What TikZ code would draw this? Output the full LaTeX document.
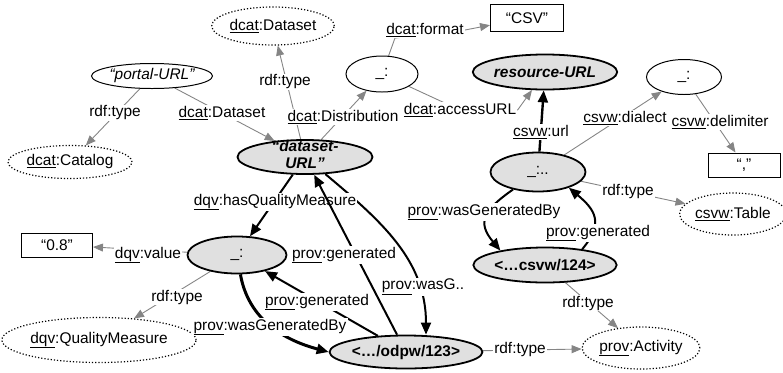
\documentclass[tikz,border=0pt]{standalone}
\usepackage{fontspec}
\setmainfont{Liberation Sans}
\usetikzlibrary{shapes.geometric,arrows.meta,backgrounds}

\definecolor{nodegray}{gray}{0.88}
\definecolor{edgegray}{gray}{0.52}
\newcommand{\ns}[1]{\underline{#1}}

\tikzset{
  res/.style={ellipse,draw,line width=1.8pt,fill=nodegray,inner sep=0pt},
  blank/.style={ellipse,draw,line width=1pt,inner sep=0pt},
  cls/.style={ellipse,draw,dotted,line width=1.2pt,inner sep=0pt},
  lit/.style={rectangle,draw,line width=1pt,inner sep=0pt},
  dims/.style 2 args={minimum width=#1bp,minimum height=#2bp},
  lbl/.style={fill=white,inner sep=1.2pt},
  weak/.style={draw=edgegray,line width=0.9pt,-{Triangle[length=10pt,width=8pt]}},
  strong/.style={draw=black,line width=2pt,-{Triangle[length=12pt,width=10pt]}},
}

\begin{document}
\begin{tikzpicture}[x=1bp,y=-1bp,font=\fontsize{15.5}{17}\selectfont]
  \useasboundingbox (0,0) rectangle (783,372);

  % resources, blank nodes, classes and literals
  \node (portal)   at (152,76)  [blank,dims={121}{25}] {\itshape “portal-URL”};
  \node (catalog)  at (70,162)  [cls,dims={124}{33}] {\ns{dcat}:Catalog};
  \node (dsclass)  at (273,26)  [cls,dims={120}{38}] {\ns{dcat}:Dataset};
  \node (dsurl)    at (305,157) [res,dims={135}{34}] {\bfseries\itshape\raisebox{-6pt}{\smash{\begin{tabular}{@{}c@{}}“dataset-\\URL”\end{tabular}}}};
  \node (dist)     at (382,74)  [blank,dims={72}{36}] {\_:};
  \node (csv)      at (527,18)  [lit,dims={73}{27}] {“CSV”};
  \node (resurl)   at (545,72)  [res,dims={135}{35}] {\bfseries\itshape resource-URL};
  \node (tbl)      at (538,172) [res,dims={95}{39}] {\_:..};
  \node (dialect)  at (684,77)  [blank,dims={75}{35}] {\_:};
  \node (delim)    at (744,165) [lit,dims={72}{24}] {“,”};
  \node (table)    at (733,214) [cls,dims={97}{42}] {\ns{csvw}:Table};
  \node (csvw)     at (545,265) [res,dims={135}{35}] {\bfseries <…csvw/124>};
  \node (activity) at (641,348) [cls,dims={107}{42}] {\ns{prov}:Activity};
  \node (odpw)     at (406,352) [res,dims={147}{33}] {\bfseries <…/odpw/123>};
  \node (val)      at (57,245)  [lit,dims={71}{24}] {“0.8”};
  \node (qm)       at (237,255) [res,dims={99}{37}] {\_:};
  \node (qmclass)  at (99,340)  [cls,dims={182}{45}] {\ns{dqv}:QualityMeasure};

  % edge labels
  \node (l1)  at (115,113) [lbl] {rdf:type};
  \node (l2)  at (222,113) [lbl] {\ns{dcat}:Dataset};
  \node (l3)  at (285,82)  [lbl] {rdf:type};
  \node (l4)  at (343,117) [lbl] {\ns{dcat}:Distribution};
  \node (l5)  at (425,30)  [lbl] {\ns{dcat}:format};
  \node (l6)  at (460,110) [lbl] {\ns{dcat}:accessURL};
  \node (l7)  at (541,132) [lbl] {\ns{csvw}:url};
  \node (l8)  at (625,118) [lbl] {\ns{csvw}:dialect};
  \node (l9)  at (720,122) [lbl] {\ns{csvw}:delimiter};
  \node (l10) at (628,192) [lbl] {rdf:type};
  \node (l11) at (484,212) [lbl] {\ns{prov}:wasGeneratedBy};
  \node (l12) at (598,233) [lbl] {\ns{prov}:generated};
  \node (l13) at (588,303) [lbl] {rdf:type};
  \node (l14) at (520,349) [lbl] {rdf:type};
  \node (l15) at (275,202) [lbl] {\ns{dqv}:hasQualityMeasure};
  \node (l17) at (317,302) [lbl] {\ns{prov}:generated};
  \node (l18) at (270,327) [lbl] {\ns{prov}:wasGeneratedBy};
  \node (l19) at (423,287) [lbl] {\ns{prov}:wasG..};
  \node (l20) at (148,255) [lbl] {\ns{dqv}:value};
  \node (l21) at (177,297) [lbl] {rdf:type};

  % connectors run under the labels
  \begin{scope}[on background layer]
    \draw[weak] (portal) -- (catalog);
    \draw[weak] (portal) -- (dsurl);
    \draw[weak] (dsurl) -- (dsclass);
    \draw[weak] (dsurl) -- (dist);
    \draw[weak] (dist) -- ([xshift=10bp]l5.south west) -- (l5.east) -- (csv);
    \draw[weak] (dist) -- (l6.center) -- (l6.east) -- (resurl);
    \draw[weak] (tbl) -- (dialect);
    \draw[weak] (dialect) -- (delim);
    \draw[weak] (tbl) -- (table);
    \draw[weak] (csvw) -- (activity);
    \draw[weak] (odpw) -- (activity);
    \draw[weak] (qm) -- (val);
    \draw[weak] (qm) -- (qmclass);
    \draw[strong,line width=2.4pt] (tbl) -- (resurl);
    \draw[strong] (dsurl) -- (qm);
    \draw[strong] (odpw) -- (qm);
    \draw[strong] (dsurl.-40) to[out=-40,in=90] ([xshift=20bp]odpw.north);
    \draw[strong,line width=3pt] (qm.-80) to[out=-80,in=165] (odpw.west);
    \draw[strong] (tbl.-145) to[out=-145,in=130,looseness=1.5] (csvw.162);
    \draw[strong] (csvw.23) to[out=50,in=-40,looseness=1.4] (tbl.-27);
  \end{scope}
  % this one crosses the hasQualityMeasure label
  \draw[strong] (odpw) -- (dsurl);
  \node (l16) at (344,255) [lbl] {\ns{prov}:generated};
\end{tikzpicture}
\end{document}
